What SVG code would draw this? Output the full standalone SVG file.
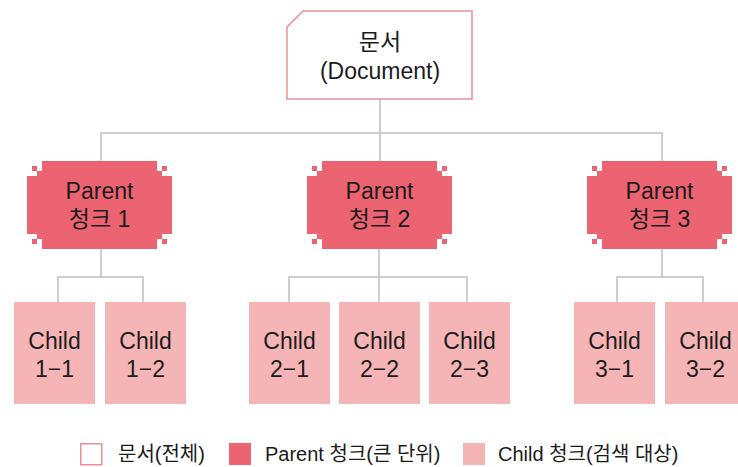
<svg xmlns="http://www.w3.org/2000/svg" xmlns:xlink="http://www.w3.org/1999/xlink" width="738" height="467" viewBox="0 0 738 467">
<style>
text{font-family:"Liberation Sans","Noto Sans CJK KR",sans-serif;fill:#1c1c1c;text-anchor:middle}
.t{font-size:23px}
.lg{font-size:20px;text-anchor:start}
.par{fill:#EC6371}
.chd{fill:#F5B4B5}
.conn{stroke:#BEBEBE;stroke-width:1.5;fill:none}
</style>
<defs>
<g id="pshape">
<path d="M15,0 H130 V10 H135 V15 H145 V73 H135 V78 H130 V88 H15 V78 H10 V73 H0 V15 H10 V10 H15 Z"/>
<rect x="5" y="5" width="5" height="5"/>
<rect x="135" y="5" width="5" height="5"/>
<rect x="5" y="78" width="5" height="5"/>
<rect x="135" y="78" width="5" height="5"/>
</g>
</defs>
<rect width="738" height="467" fill="#ffffff"/>
<g id="connectors" class="conn">
<path d="M380,99 V161"/>
<path d="M101,161 V133 H662 V161"/>
<path d="M101,249 V277"/>
<path d="M58,302 V277 H143 V302"/>
<path d="M379,249 V302"/>
<path d="M289,302 V277 H467 V302"/>
<path d="M662,249 V277"/>
<path d="M617,302 V277 H703 V302"/>
</g>
<g id="doc">
<path d="M287,27 L303,11 H472 V99 H287 Z" fill="#ffffff" stroke="#EE8E98" stroke-width="1.5"/>
<text class="t" x="380" y="50">문서</text>
<text class="t" x="380" y="79">(Document)</text>
</g>
<g id="parent1">
<use xlink:href="#pshape" class="par" transform="translate(27,161)"/>
<text class="t" x="99.5" y="199">Parent</text>
<text class="t" x="99.5" y="227">청크 1</text>
</g>
<g id="parent2">
<use xlink:href="#pshape" class="par" transform="translate(307,161)"/>
<text class="t" x="379.5" y="199">Parent</text>
<text class="t" x="379.5" y="227">청크 2</text>
</g>
<g id="parent3">
<use xlink:href="#pshape" class="par" transform="translate(587,161)"/>
<text class="t" x="659.5" y="199">Parent</text>
<text class="t" x="659.5" y="227">청크 3</text>
</g>
<g id="child1-1"><rect class="chd" x="14" y="302" width="81" height="102"/><text class="t" x="54.5" y="349">Child</text><text class="t" x="54.5" y="377">1−1</text></g>
<g id="child1-2"><rect class="chd" x="105" y="302" width="81" height="102"/><text class="t" x="145.5" y="349">Child</text><text class="t" x="145.5" y="377">1−2</text></g>
<g id="child2-1"><rect class="chd" x="249" y="302" width="81" height="102"/><text class="t" x="289.5" y="349">Child</text><text class="t" x="289.5" y="377">2−1</text></g>
<g id="child2-2"><rect class="chd" x="339" y="302" width="81" height="102"/><text class="t" x="379.5" y="349">Child</text><text class="t" x="379.5" y="377">2−2</text></g>
<g id="child2-3"><rect class="chd" x="429" y="302" width="81" height="102"/><text class="t" x="469.5" y="349">Child</text><text class="t" x="469.5" y="377">2−3</text></g>
<g id="child3-1"><rect class="chd" x="574" y="302" width="81" height="102"/><text class="t" x="614.5" y="349">Child</text><text class="t" x="614.5" y="377">3−1</text></g>
<g id="child3-2"><rect class="chd" x="665" y="302" width="81" height="102"/><text class="t" x="705.5" y="349">Child</text><text class="t" x="705.5" y="377">3−2</text></g>
<g id="legend">
<rect x="80.75" y="443.75" width="21" height="21" fill="#ffffff" stroke="#EE8E98" stroke-width="1.5"/>
<text class="lg" x="118" y="461">문서(전체)</text>
<rect class="par" x="229" y="443" width="22" height="22"/>
<text class="lg" x="265" y="461">Parent 청크(큰 단위)</text>
<rect class="chd" x="463" y="443" width="22" height="22"/>
<text class="lg" x="498" y="461">Child 청크(검색 대상)</text>
</g>
</svg>
